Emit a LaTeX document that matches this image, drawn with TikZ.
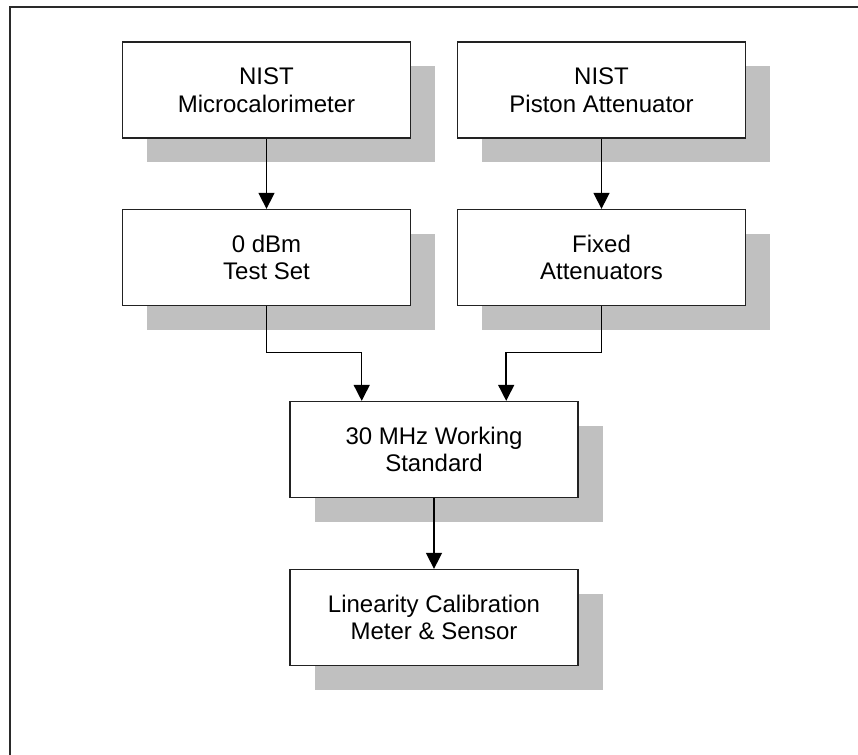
\documentclass[tikz,border=0pt]{standalone}
\usepackage{fontspec}
\setmainfont{Liberation Sans}
\usetikzlibrary{arrows.meta,shadows}
\definecolor{shadowgray}{HTML}{C0C0C0}
\definecolor{framecol}{HTML}{2A2A2A}
\definecolor{boxline}{HTML}{222222}
\begin{document}
\begin{tikzpicture}[x=1pt,y=-1pt,
  blockbox/.style={draw=boxline, line width=1.3pt, fill=white,
    minimum width=288pt, minimum height=96pt, inner sep=0pt, align=center,
    font=\fontsize{24}{27.5}\selectfont,
    drop shadow={shadow xshift=24.5pt, shadow yshift=-24.5pt, fill=shadowgray, opacity=1}},
  link/.style={line width=1.5pt, -{Triangle[width=16pt,length=16pt]}}]
\useasboundingbox (0,0) rectangle (858,754);
\draw[line width=2.5pt, framecol] (10,756) -- (10,7) -- (860,7);
\node[blockbox] (cal) at (266.5,90) {NIST\\Microcalorimeter};
\node[blockbox] (pist) at (601.5,90) {NIST\\Piston Attenuator};
\node[blockbox] (test) at (266.5,257.5) {0 dBm\\Test Set};
\node[blockbox] (fixed) at (601.5,257.5) {Fixed\\Attenuators};
\node[blockbox] (work) at (434,449.5) {30 MHz Working\\Standard};
\node[blockbox] (lin) at (434,617.5) {Linearity Calibration\\Meter \& Sensor};
\draw[link] (cal) -- (test);
\draw[link] (pist) -- (fixed);
\draw[link] (test.south) |- (361.7,352.7) -- ([xshift=-72.3pt]work.north);
\draw[link] (fixed.south) |- (506.2,352.7) -- ([xshift=72.2pt]work.north);
\draw[link] (work) -- (lin);
\end{tikzpicture}
\end{document}
